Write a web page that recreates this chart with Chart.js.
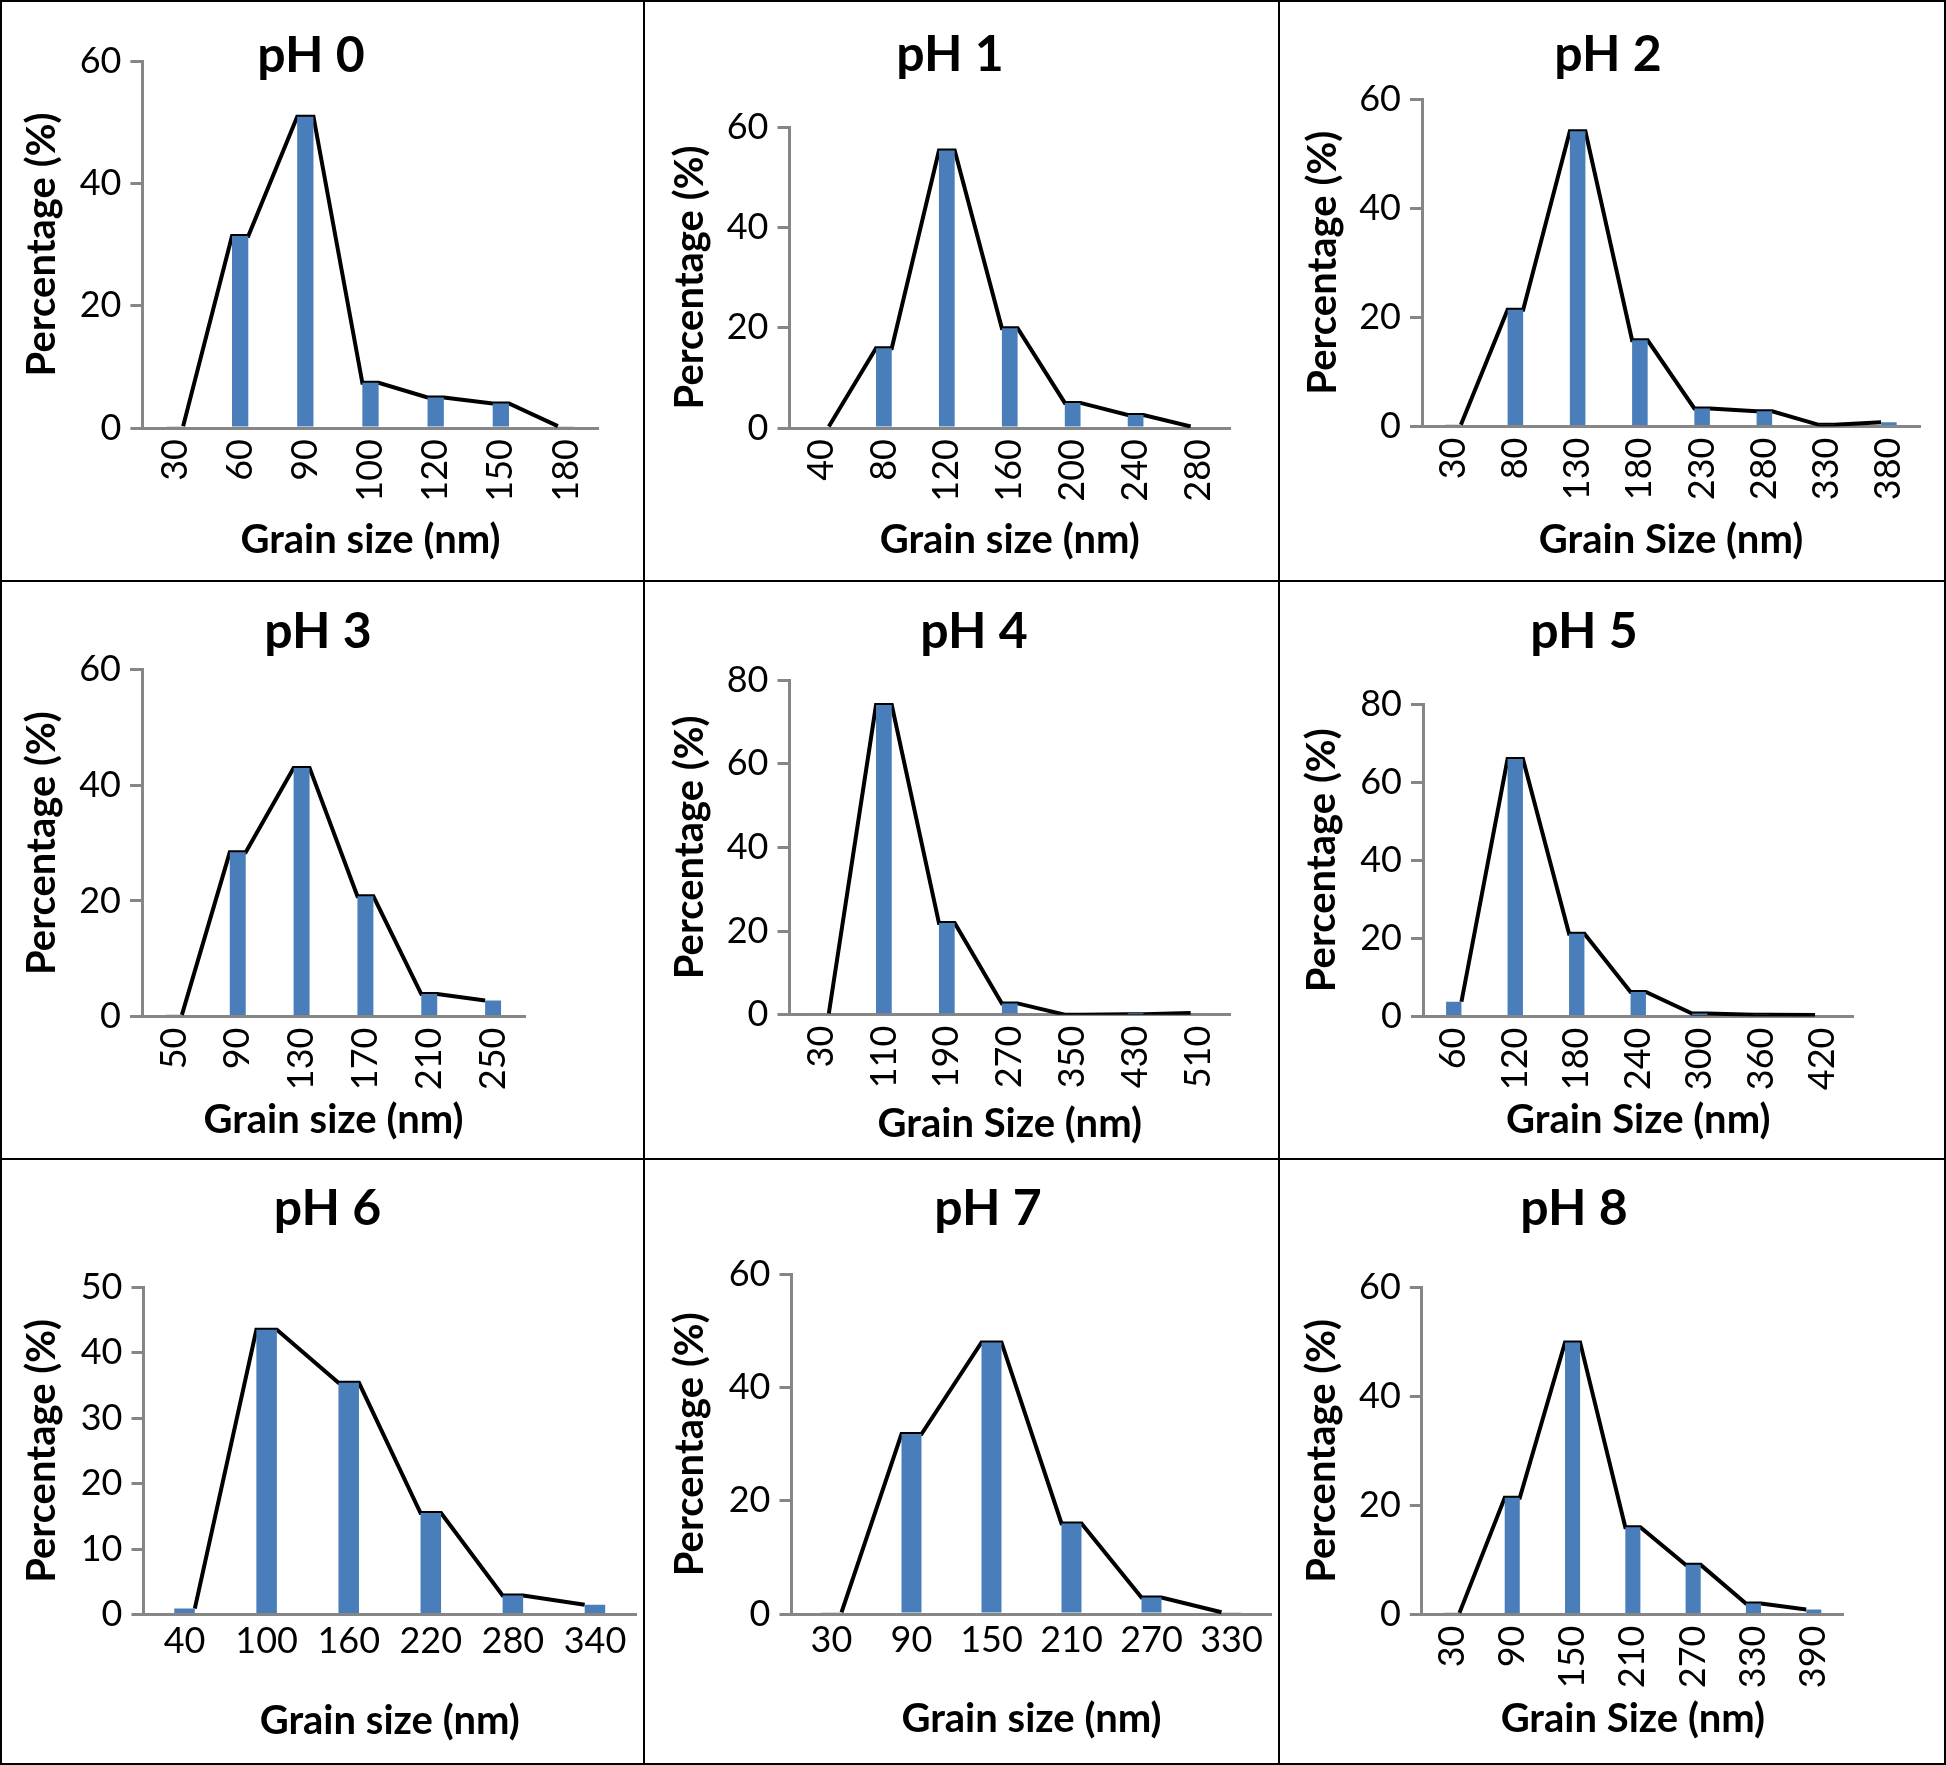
<!DOCTYPE html>
<html>
<head>
<meta charset="utf-8">
<script src="https://cdn.jsdelivr.net/npm/chart.js@4.4.1/dist/chart.umd.min.js"></script>
<style>
html,body{margin:0;padding:0;background:#fff;}
#fig{position:relative;width:1946px;height:1765px;overflow:hidden;background:#fff;}
#fig canvas{position:absolute;}
.ln{position:absolute;background:#000;z-index:5;}
</style>
</head>
<body>
<div id="fig"></div>
<script>
// ---------------- DATA ----------------
const panelTitles = ['pH 0','pH 1','pH 2','pH 3','pH 4','pH 5','pH 6','pH 7','pH 8'];
const xTitles = ['Grain size (nm)','Grain size (nm)','Grain Size (nm)',
                 'Grain size (nm)','Grain Size (nm)','Grain Size (nm)',
                 'Grain size (nm)','Grain size (nm)','Grain Size (nm)'];
const yTitle = 'Percentage (%)';

const sizes_pH0 = [30, 60, 90, 100, 120, 150, 180];
const pct_pH0   = [0.3, 31.4, 50.9, 7.4, 5.0, 4.0, 0.3];

const sizes_pH1 = [40, 80, 120, 160, 200, 240, 280];
const pct_pH1   = [0.3, 15.9, 55.3, 19.9, 5.0, 2.6, 0.3];

const sizes_pH2 = [30, 80, 130, 180, 230, 280, 330, 380];
const pct_pH2   = [0.3, 21.4, 54.1, 15.8, 3.3, 2.8, 0.3, 0.8];

const sizes_pH3 = [50, 90, 130, 170, 210, 250];
const pct_pH3   = [0.3, 28.4, 43.0, 20.8, 3.9, 2.8];

const sizes_pH4 = [30, 110, 190, 270, 350, 430, 510];
const pct_pH4   = [0.3, 74.0, 21.9, 2.7, 0.0, 0.1, 0.4];

const sizes_pH5 = [60, 120, 180, 240, 300, 360, 420];
const pct_pH5   = [3.8, 65.9, 21.2, 6.3, 0.8, 0.5, 0.4];

const sizes_pH6 = [40, 100, 160, 220, 280, 340];
const pct_pH6   = [0.9, 43.5, 35.4, 15.5, 2.9, 1.5];

const sizes_pH7 = [30, 90, 150, 210, 270, 330];
const pct_pH7   = [0.3, 31.8, 48.0, 16.0, 2.9, 0.3];

const sizes_pH8 = [30, 90, 150, 210, 270, 330, 390];
const pct_pH8   = [0.3, 21.4, 49.9, 16.0, 9.1, 2.0, 0.9];

const yMax  = [60, 60, 60, 60, 80, 80, 50, 60, 60];
const yStep = [20, 20, 20, 20, 20, 20, 10, 20, 20];

const allSizes = [sizes_pH0, sizes_pH1, sizes_pH2, sizes_pH3, sizes_pH4, sizes_pH5, sizes_pH6, sizes_pH7, sizes_pH8];
const allPct   = [pct_pH0, pct_pH1, pct_pH2, pct_pH3, pct_pH4, pct_pH5, pct_pH6, pct_pH7, pct_pH8];

// ---------------- LAYOUT (page geometry, px) ----------------
const panelBox = [[0,0,644,581],[644,0,1279,581],[1279,0,1946,581],
                  [0,581,644,1159],[644,581,1279,1159],[1279,581,1946,1159],
                  [0,1159,644,1765],[644,1159,1279,1765],[1279,1159,1946,1765]];
const plotBox = [[142.4,61,598.6,428],[789.5,127,1230,428],[1422,99,1920,426.5],
                 [142,669.6,525,1016.6],[789.5,680,1230,1014.7],[1423,704,1853.5,1016.6],
                 [143.5,1287.3,636,1614.5],[791.5,1274.6,1271.5,1614],[1421.8,1287.3,1843.9,1614.5]];
const titleAt = [[311,71],[950,70],[1608,70],[318,647],[974,647],[1584,647],[327.5,1224],[988,1224],[1574,1224]];
const yTitleBaseX = [54,702,1335,54,702,1334,54,702,1334];
const xTitleBaseY = [552,552,552,1132,1136,1132,1733,1731,1731];
const labelRot = [90,90,90,90,90,90,0,0,90];

// ---------------- STYLE ----------------
const FONT = "Lato, 'Open Sans', sans-serif";
const TS = 50, AS = 40, KS = 36, MID = 0.305;
const BAR = '#4A7EBB', AXIS = '#868686';
const BAR_FRAC = 0.25;
Chart.defaults.font.family = FONT;
Chart.defaults.color = '#000';

const fig = document.getElementById('fig');

function buildPanel(k) {
  const [x0, y0, x1, y1] = panelBox[k];
  const W = x1 - x0, H = y1 - y0;
  const [pl, pt, pr, pb] = plotBox[k];
  const L = pl - x0, T = pt - y0, R = pr - x0, B = pb - y0;
  const tcx = titleAt[k][0] - x0;
  const tmid = titleAt[k][1] - y0 - MID * TS;
  const diff = L + R - 2 * tcx;          // yW - rW
  const yW = Math.max(72, diff);
  const rW = yW - diff;
  const padL = L - yW, padR = W - R - rW;
  const tPadTop = tmid - TS / 2, tPadBottom = T - tPadTop - TS;
  const yMid = yTitleBaseX[k] - x0 - MID * AS;
  const yTitlePad = yMid - padL - AS / 2;
  const xMid = xTitleBaseY[k] - y0 - MID * AS;
  const xTitlePad = H - xMid - AS / 2;
  const rot = labelRot[k];

  const sizes = allSizes[k], vals = allPct[k], n = sizes.length;
  const hw = BAR_FRAC / 2;
  const barPts = vals.map((v, i) => ({x: i, y: v}));
  const linePts = [];
  vals.forEach((v, i) => {
    if (i > 0) linePts.push({x: i - hw, y: v});
    if (i < n - 1) linePts.push({x: i + hw, y: v});
  });

  const cv = document.createElement('canvas');
  cv.width = W; cv.height = H;
  cv.style.left = x0 + 'px'; cv.style.top = y0 + 'px';
  cv.style.width = W + 'px'; cv.style.height = H + 'px';
  fig.appendChild(cv);

  new Chart(cv, {
    type: 'bar',
    data: {
      datasets: [
        {type: 'bar', data: barPts, backgroundColor: BAR, borderWidth: 0,
         grouped: false, categoryPercentage: 1, barPercentage: BAR_FRAC, order: 1,
         xAxisID: 'x', yAxisID: 'y'},
        {type: 'line', data: linePts, xAxisID: 'x', yAxisID: 'y',
         borderColor: '#000', borderWidth: 4, pointRadius: 0, fill: false,
         tension: 0, order: 2}
      ]
    },
    options: {
      responsive: false, animation: false, devicePixelRatio: 1,
      layout: {padding: {left: padL, right: padR, top: 0, bottom: 0}},
      plugins: {
        legend: {display: false},
        tooltip: {enabled: false},
        title: {display: true, text: panelTitles[k], color: '#000',
                font: {size: TS, weight: 'bold', family: FONT, lineHeight: 1},
                padding: {top: tPadTop, bottom: tPadBottom}}
      },
      scales: {
        x: {
          type: 'linear', offset: false, min: -0.5, max: n - 0.5,
          afterBuildTicks: s => { s.ticks = sizes.map((_, i) => ({value: i})); },
          grid: {display: false, drawTicks: false},
          border: {display: true, color: AXIS, width: 3},
          ticks: {autoSkip: false, minRotation: rot, maxRotation: rot,
                  padding: rot ? 11 : 5, color: '#000',
                  font: {size: KS, family: FONT},
                  callback: v => String(sizes[Math.round(v)])},
          title: {display: true, text: xTitles[k], color: '#000',
                  font: {size: AS, weight: 'bold', family: FONT, lineHeight: 1},
                  padding: {top: 0, bottom: xTitlePad}},
          afterFit: s => { s.height = H - B; s.paddingLeft = 0; s.paddingRight = 0; }
        },
        y: {
          position: 'left', min: 0, max: yMax[k],
          ticks: {stepSize: yStep[k], padding: 9, color: '#000',
                  font: {size: KS, family: FONT}},
          grid: {drawOnChartArea: false, drawTicks: true, tickLength: 12,
                 color: AXIS, lineWidth: 3},
          border: {display: true, color: AXIS, width: 3},
          title: {display: true, text: yTitle, color: '#000',
                  font: {size: AS, weight: 'bold', family: FONT, lineHeight: 1},
                  padding: {top: yTitlePad, bottom: 0}},
          afterFit: s => { s.width = yW; s.paddingTop = 0; s.paddingBottom = 0; }
        },
        yr: {
          type: 'linear', position: 'right', display: true,
          grid: {display: false, drawTicks: false},
          border: {display: false},
          ticks: {display: false},
          afterFit: s => { s.width = rW; s.paddingTop = 0; s.paddingBottom = 0; }
        }
      }
    }
  });
}

for (let k = 0; k < 9; k++) buildPanel(k);

// panel frame lines
function line(x, y, w, h) {
  const d = document.createElement('div');
  d.className = 'ln';
  d.style.left = x + 'px'; d.style.top = y + 'px';
  d.style.width = w + 'px'; d.style.height = h + 'px';
  fig.appendChild(d);
}
line(0, 0, 1946, 2); line(0, 1763, 1946, 2);
line(0, 0, 2, 1765); line(1944, 0, 2, 1765);
line(643, 0, 2, 1765); line(1278, 0, 2, 1765);
line(0, 580, 1946, 2); line(0, 1158, 1946, 2);
</script>
</body>
</html>
